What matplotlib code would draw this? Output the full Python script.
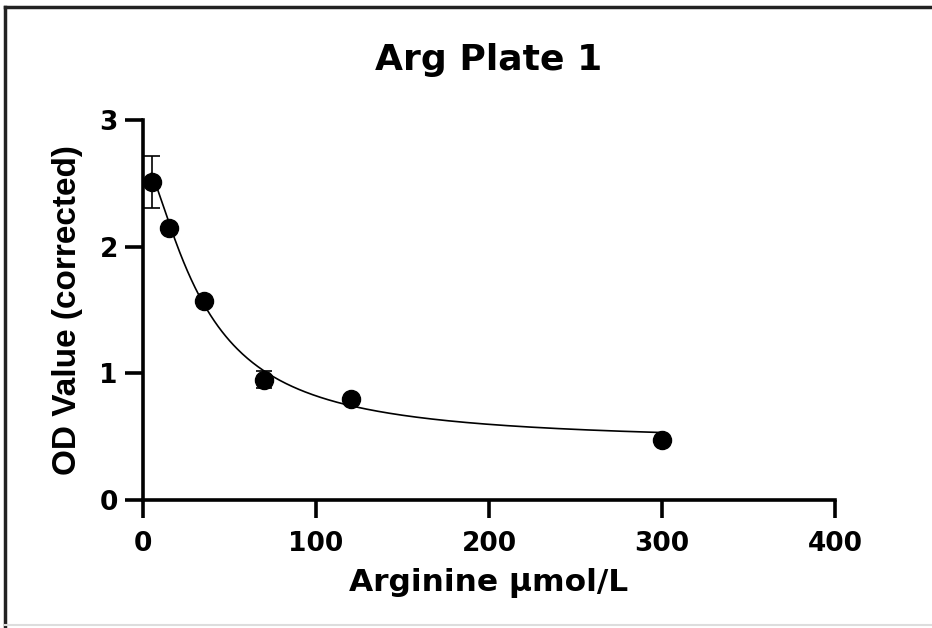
import numpy as np
import matplotlib
matplotlib.use('Agg')
import matplotlib.pyplot as plt
from matplotlib.lines import Line2D

# data
arginine = [5, 15, 35, 70, 120, 300]
od_value = [2.51, 2.15, 1.57, 0.95, 0.795, 0.475]
od_err = [0.205, 0.0, 0.0, 0.068, 0.0, 0.0]

# 4-parameter logistic fit (approximated from the drawn curve)
fit_bottom = 0.45
fit_top = 2.7
fit_ic50 = 34.0
fit_hill = 1.5

x_ticks = [0, 100, 200, 300, 400]
y_ticks = [0, 1, 2, 3]


def logistic(x):
    return fit_bottom + (fit_top - fit_bottom) / (1 + (x / fit_ic50) ** fit_hill)


def plot_arg_plate(out_file):
    plt.rcParams['font.family'] = ['DejaVu Sans']
    plt.rcParams['font.weight'] = 'bold'

    fig = plt.figure(figsize=(9.32, 6.28), dpi=100)
    ax = fig.add_axes([0.1534, 0.2038, 0.7425, 0.6051])

    xs = np.linspace(min(arginine), max(arginine), 400)
    ax.plot(xs, logistic(xs), color='black', lw=1.2, zorder=2)
    ax.errorbar(arginine, od_value, yerr=od_err, fmt='o', color='black',
                markersize=13, elinewidth=1.2, capsize=6, capthick=1.2,
                zorder=3, clip_on=False)

    ax.set_xlim(0, 400)
    ax.set_ylim(0, 3)
    ax.set_xticks(x_ticks)
    ax.set_yticks(y_ticks)
    for side in ['top', 'right']:
        ax.spines[side].set_visible(False)
    for side in ['left', 'bottom']:
        ax.spines[side].set_linewidth(2.6)
    ax.tick_params(direction='out', length=13, width=2.6, labelsize=19)
    ax.tick_params(axis='x', pad=9)
    ax.tick_params(axis='y', pad=5)
    for lbl in ax.get_xticklabels() + ax.get_yticklabels():
        lbl.set_fontweight('bold')

    ax.set_title('Arg Plate 1', fontsize=26, fontweight='bold', pad=36)
    ax.set_xlabel('Arginine μmol/L', fontsize=22.5, fontweight='bold', labelpad=8)
    ax.set_ylabel('OD Value (corrected)', fontsize=24, fontweight='bold',
                  family=['Liberation Sans', 'DejaVu Sans'], labelpad=12)

    # frame around the screenshot
    fig.add_artist(Line2D([5 / 932, 1], [1 - 7 / 628, 1 - 7 / 628], color='#222222', lw=2.5))
    fig.add_artist(Line2D([5 / 932, 5 / 932], [0, 1 - 7 / 628], color='#222222', lw=2.5))
    fig.add_artist(Line2D([5 / 932, 1], [3 / 628, 3 / 628], color='#dddddd', lw=1.5))

    fig.savefig(out_file, dpi=100)


if __name__ == '__main__':
    plot_arg_plate('out.png')
